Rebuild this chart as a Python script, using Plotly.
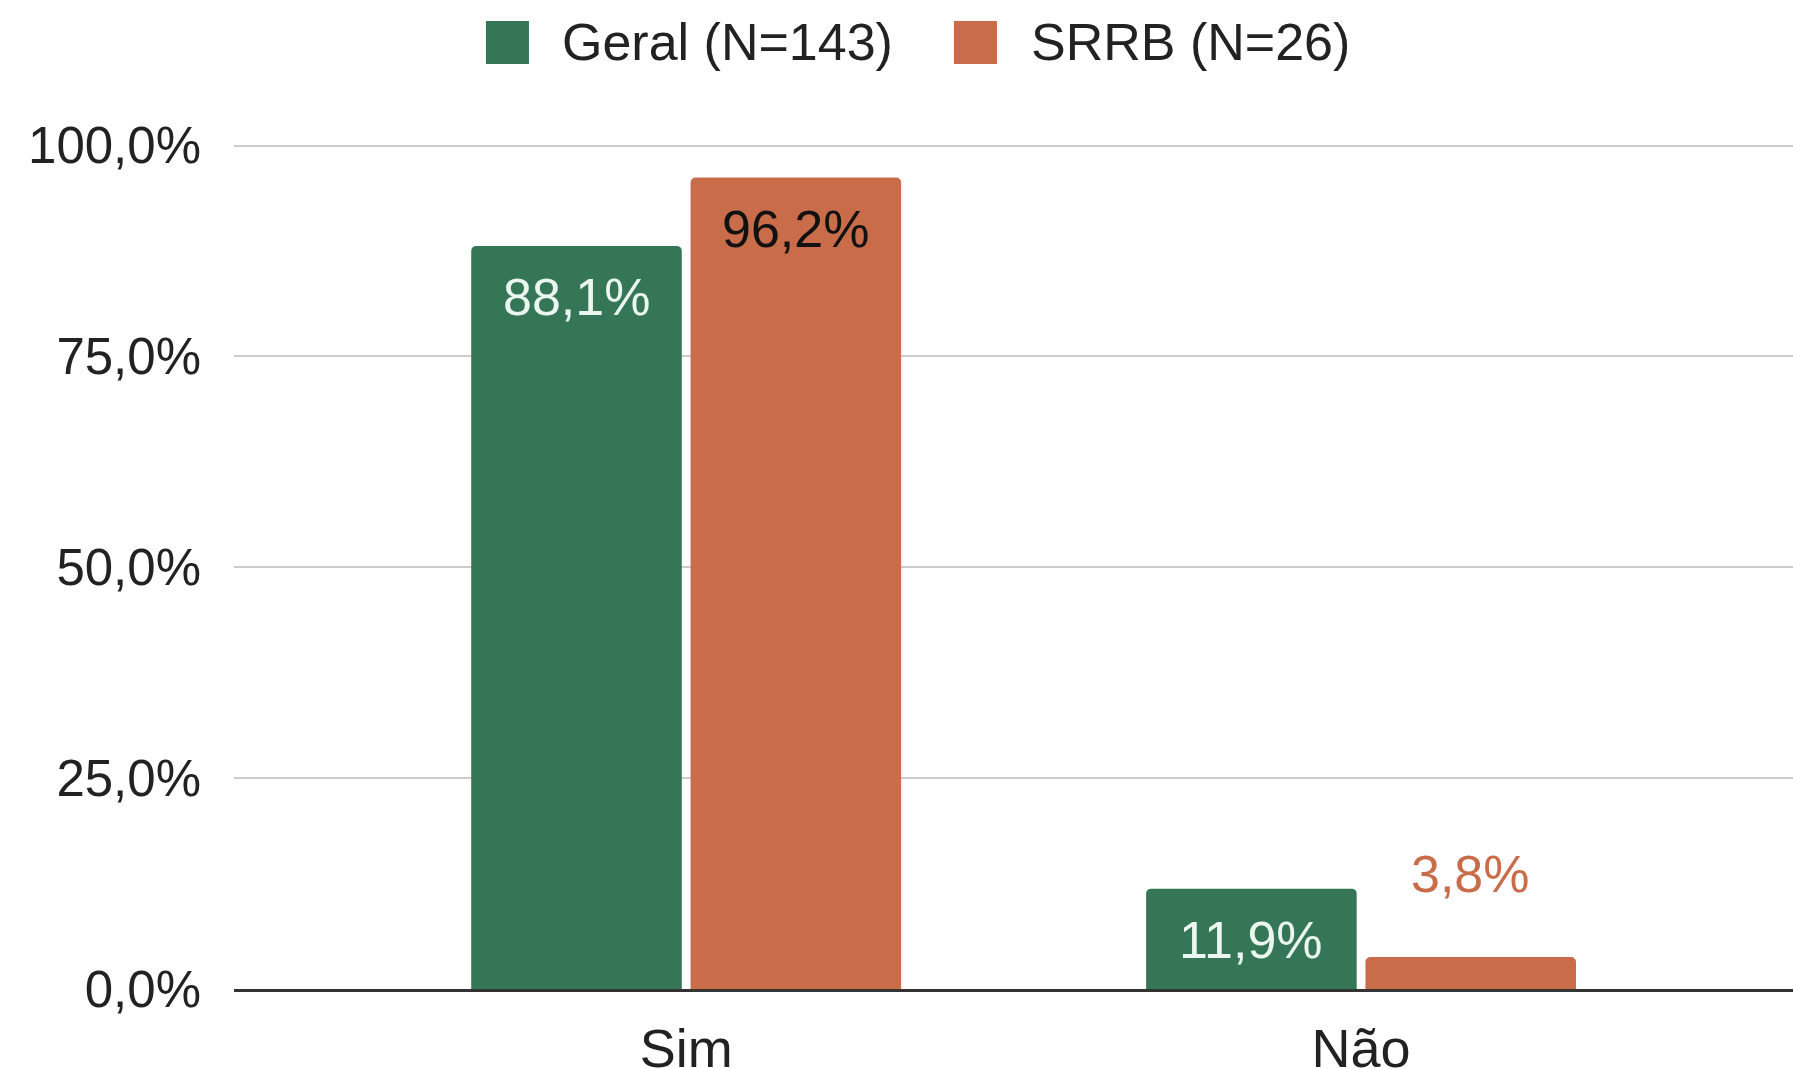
import plotly.graph_objects as go

categories = ["Sim", "Não"]
series_names = ["Geral (N=143)", "SRRB (N=26)"]
geral_values = [88.1, 11.9]
srrb_values = [96.2, 3.8]
y_ticks = [0, 25, 50, 75, 100]
y_tick_labels = [f"{t:.1f}%".replace(".", ",") for t in y_ticks]

GREEN = "#357656"
ORANGE = "#C96C49"
FONT = "Arial, Liberation Sans, sans-serif"

BARGAP = 0.35
GROUPGAP = 0.04

fig = go.Figure()
for name, vals, color in [
    (series_names[0], geral_values, GREEN),
    (series_names[1], srrb_values, ORANGE),
]:
    fig.add_trace(
        go.Bar(
            x=categories,
            y=vals,
            name=name,
            marker=dict(color=color, cornerradius=5, line=dict(width=0)),
            showlegend=False,
            hoverinfo="skip",
        )
    )

# data labels: inside near the top for tall bars, above for short ones
slot = (1 - BARGAP) / 2
label_styles = [
    ("#EAF6EF", "#EAF6EF"),   # geral: inside color, outside color
    ("#111111", ORANGE),      # srrb
]
for s, vals in enumerate([geral_values, srrb_values]):
    offset = (s - 0.5) * slot
    for j, v in enumerate(vals):
        inside = v > 10
        fig.add_annotation(
            x=j + offset,
            y=v,
            xref="x",
            yref="y",
            text=f"{v:.1f}%".replace(".", ","),
            showarrow=False,
            yanchor="middle",
            yshift=-51 if inside else 83,
            font=dict(family=FONT, size=52,
                      color=label_styles[s][0] if inside else label_styles[s][1]),
        )

# legend drawn by hand (large squares like the original)
legend_items = [
    (series_names[0], GREEN, 0.1616, 0.2091),
    (series_names[1], ORANGE, 0.4618, 0.5099),
]
for text, color, sx, tx in legend_items:
    fig.add_shape(
        type="rect", xref="paper", yref="paper",
        x0=sx, x1=sx + 0.0276, y0=1.0934, y1=1.1442,
        fillcolor=color, line=dict(width=0), layer="above",
    )
    fig.add_annotation(
        x=tx, y=1.1194, xref="paper", yref="paper",
        text=text, showarrow=False, xanchor="left", yanchor="middle",
        font=dict(family=FONT, size=52, color="#222222"),
    )

fig.update_layout(
    width=1793,
    height=1069,
    margin=dict(l=234, r=0, t=143, b=80, autoexpand=False),
    paper_bgcolor="white",
    plot_bgcolor="white",
    barmode="group",
    bargap=BARGAP,
    bargroupgap=GROUPGAP,
    font=dict(family=FONT, color="#222222"),
)
fig.update_xaxes(
    range=[-0.67, 1.64],
    automargin=False,
    showgrid=False,
    showline=True,
    linecolor="#333333",
    linewidth=3,
    ticks="",
    ticklabelstandoff=10,
    tickfont=dict(family=FONT, size=54, color="#222222"),
)
fig.update_yaxes(
    range=[0, 100.3],
    automargin=False,
    tickvals=y_ticks,
    ticktext=y_tick_labels,
    showgrid=True,
    gridcolor="#CCCCCC",
    gridwidth=2,
    zeroline=False,
    ticks="",
    ticklabelstandoff=32,
    tickfont=dict(family=FONT, size=51, color="#222222"),
)

fig.write_html(
    "out.html",
    config={"displayModeBar": False},
    post_script="document.body.style.margin='0';document.body.style.overflow='hidden';",
)
